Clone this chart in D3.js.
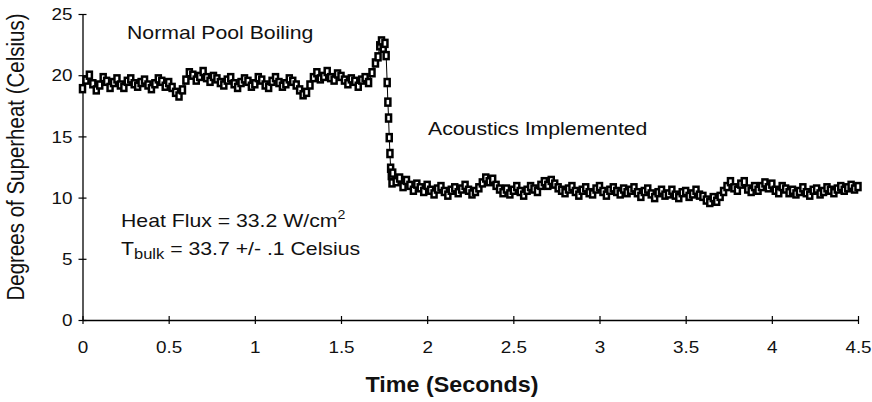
<!DOCTYPE html>
<html>
<head>
<meta charset="utf-8">
<script src="https://cdn.jsdelivr.net/npm/d3@7"></script>
<style>
  body { margin: 0; background: #fff; }
  svg { display: block; font-family: "Liberation Sans", Arial, sans-serif; }
</style>
</head>
<body>
<svg id="chart" width="872" height="402"></svg>
<script>
// sampled every 0.02 s before the acoustics kick in (t = 0 .. 1.70)
var timeStep = 0.02;
var boilingValues = [
  18.9, 19.6, 20.0, 19.3, 18.8, 19.2, 19.8, 19.5, 19.0, 19.4, 19.7,
  19.2, 19.0, 19.5, 19.7, 19.3, 19.1, 19.4, 19.6, 19.2, 18.9, 19.3, 19.7, 19.5, 19.1, 19.4,
  19.0, 18.6, 18.3, 18.8,
  19.6, 20.2, 20.0, 19.6, 19.9, 20.3, 19.8, 19.5, 19.9, 19.7, 19.4,
  19.2, 19.6, 19.8, 19.3, 19.0, 19.4, 19.7, 19.5, 19.1, 19.3, 19.8, 19.6, 19.2, 19.0, 19.5, 19.8, 19.4, 19.1, 19.3, 19.7, 19.5, 19.2,
  18.8, 18.4, 18.6, 19.2,
  19.8, 20.2, 19.7, 19.9, 20.3, 19.8, 19.6, 20.1, 19.9, 19.6,
  19.3, 19.7, 19.5, 19.1, 19.6, 19.8, 19.4,
  20.2, 21.0
];
// the spike and the sharp drop, read point by point
var transitionTimes = [1.715, 1.725, 1.735, 1.745, 1.755, 1.762, 1.768, 1.772, 1.776, 1.780, 1.784, 1.788, 1.792, 1.796];
var transitionValues = [21.5, 22.4, 22.8, 22.2, 22.6, 21.6, 19.4, 17.8, 16.5, 14.9, 13.6, 12.4, 11.8, 11.2];
// after the drop, every 0.02 s from t = 1.80 to 4.50
var acousticStart = 1.80;
var acousticValues = [
  12.0, 11.3, 11.6, 10.9,
  11.4, 11.0, 10.6, 11.1, 10.8, 10.5, 11.0,
  10.6, 10.3, 10.7, 10.9, 10.5, 10.2, 10.6, 10.8, 10.4, 10.7, 11.0, 10.6, 10.3, 10.5, 10.8,
  11.2, 11.6, 11.3, 11.5, 11.0, 10.7,
  10.4, 10.7, 10.3, 10.6, 10.9, 10.5, 10.2, 10.6, 10.9, 10.7, 10.5,
  11.0, 11.3, 11.0, 11.4, 11.1, 10.8, 10.6,
  10.4, 10.7, 10.9, 10.5, 10.2, 10.6, 10.8, 10.4, 10.3, 10.7, 10.9, 10.5, 10.2, 10.6, 10.8, 10.5, 10.3, 10.7, 10.4, 10.6, 10.8,
  10.4, 10.1, 10.5, 10.7, 10.3, 10.0, 10.4, 10.6, 10.2, 10.3, 10.6, 10.2, 10.0, 10.4, 10.5, 10.1, 10.3, 10.6, 10.2, 10.1,
  9.8, 9.6, 10.0, 9.7, 10.1, 10.5,
  10.9, 11.3, 10.8, 10.6, 11.1, 11.3, 10.7, 10.5, 10.9, 10.6,
  10.9, 11.2, 10.8, 11.1, 10.6, 10.4, 10.9, 10.7, 10.4,
  10.6, 10.3, 10.5, 10.8, 10.4, 10.2, 10.6, 10.7, 10.3, 10.5, 10.8, 10.6, 10.4, 10.7, 10.9, 10.6, 10.8, 11.0, 10.7, 10.9
];
var xTicks = [0, 0.5, 1, 1.5, 2, 2.5, 3, 3.5, 4, 4.5];
var yTicks = [0, 5, 10, 15, 20, 25];

// put everything in one list of {t, v}
var points = [];
boilingValues.forEach(function(v, i) { points.push({t: i * timeStep, v: v}); });
transitionTimes.forEach(function(t, i) { points.push({t: t, v: transitionValues[i]}); });
acousticValues.forEach(function(v, i) { points.push({t: acousticStart + i * timeStep, v: v}); });

var svg = d3.select("#chart");
var x = d3.scaleLinear().domain([0, 4.5]).range([82.5, 858]);
var y = d3.scaleLinear().domain([0, 25]).range([320, 14]);

// the scan is a bit wider than tall, so text gets stretched sideways
var stretch = 1.18;

// Y axis
var yAxis = svg.append("g").attr("transform", "translate(" + x(0) + ",0)")
  .call(d3.axisLeft(y).tickValues(yTicks).tickFormat(function(d) { return d; }).tickSize(4).tickSizeOuter(0));
yAxis.select(".domain").attr("stroke", "#000").attr("stroke-width", 1.3);
yAxis.selectAll(".tick line").attr("x1", -4).attr("x2", 4).attr("stroke", "#000").attr("stroke-width", 1.2);
yAxis.selectAll(".tick text")
  .attr("x", null).attr("dy", "0.36em")
  .attr("transform", "translate(-10,0) scale(" + stretch + ",1)")
  .attr("font-size", 16).attr("fill", "#111")
  .style("font-family", "Liberation Sans, Arial, sans-serif");

// X axis
var xAxis = svg.append("g").attr("transform", "translate(0," + y(0) + ")")
  .call(d3.axisBottom(x).tickValues(xTicks).tickFormat(function(d) { return d; }).tickSize(4).tickSizeOuter(0));
xAxis.select(".domain").attr("stroke", "#000").attr("stroke-width", 1.3);
xAxis.selectAll(".tick line").attr("y1", -4).attr("y2", 4).attr("stroke", "#000").attr("stroke-width", 1.2);
xAxis.selectAll(".tick text")
  .attr("y", null).attr("dy", null)
  .attr("transform", "translate(0,33) scale(" + stretch + ",1)")
  .attr("font-size", 16).attr("fill", "#111")
  .style("font-family", "Liberation Sans, Arial, sans-serif");

// data line + square markers
var line = d3.line().x(function(d) { return x(d.t); }).y(function(d) { return y(d.v); });
svg.append("path").datum(points)
  .attr("d", line).attr("fill", "none").attr("stroke", "#000").attr("stroke-width", 1);

svg.append("g").selectAll("rect").data(points).enter().append("rect")
  .attr("x", function(d) { return x(d.t) - 2.5; })
  .attr("y", function(d) { return y(d.v) - 3.5; })
  .attr("width", 5).attr("height", 7)
  .attr("fill", "#fff").attr("stroke", "#000").attr("stroke-width", 2.5);

// texts
function addText(px, py, str, size, anchor, weight) {
  return svg.append("text")
    .attr("transform", "translate(" + px + "," + py + ") scale(" + stretch + ",1)")
    .attr("text-anchor", anchor || "start")
    .attr("font-size", size)
    .attr("font-weight", weight || "normal")
    .attr("fill", "#111")
    .text(str);
}

addText(127, 39, "Normal Pool Boiling", 18);
addText(428, 135, "Acoustics Implemented", 18);

var flux = addText(121, 227, "Heat Flux = 33.2 W/cm", 18);
flux.append("tspan").attr("dy", -8).attr("font-size", 12).text("2");

var bulk = addText(121, 255, "T", 18);
bulk.append("tspan").attr("dy", 4).attr("font-size", 14).text("bulk");
bulk.append("tspan").attr("dy", -4).text(" = 33.7 +/- .1 Celsius");

// axis titles
svg.append("text")
  .attr("transform", "translate(452,392) scale(1.06,1)")
  .attr("text-anchor", "middle").attr("font-size", 22).attr("font-weight", "bold")
  .attr("fill", "#111").text("Time (Seconds)");

svg.append("text")
  .attr("transform", "translate(24,157) rotate(-90) scale(1,1.15)")
  .attr("text-anchor", "middle").attr("font-size", 20.5)
  .attr("fill", "#111").text("Degrees of Superheat (Celsius)");
</script>
</body>
</html>
